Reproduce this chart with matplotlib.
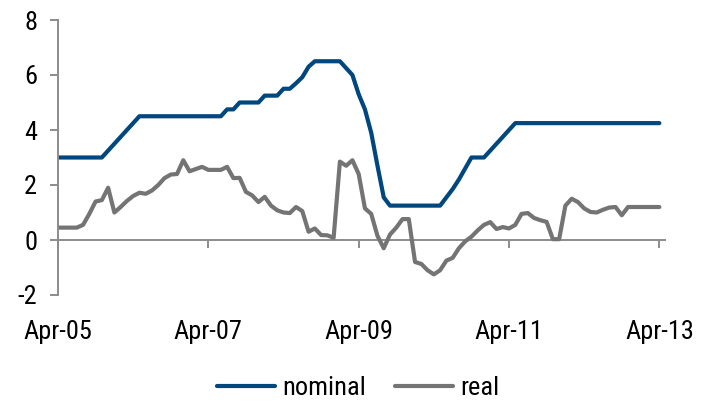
import matplotlib
matplotlib.use("Agg")
import matplotlib.pyplot as plt
import numpy as np
from matplotlib import font_manager

# monthly data, Apr-05 .. Apr-13
nominal = [
    3.0, 3.0, 3.0, 3.0, 3.0, 3.0, 3.0, 3.0, 3.25, 3.5, 3.75, 4.0, 4.25,
    4.5, 4.5, 4.5, 4.5, 4.5, 4.5, 4.5, 4.5, 4.5, 4.5, 4.5, 4.5, 4.5, 4.5,
    4.75, 4.75, 5.0, 5.0, 5.0, 5.0, 5.25, 5.25, 5.25, 5.5, 5.5, 5.7, 5.92,
    6.3, 6.5, 6.5, 6.5, 6.5, 6.5, 6.25, 6.0, 5.3, 4.75, 3.9, 2.7, 1.55,
    1.25, 1.25, 1.25, 1.25, 1.25, 1.25, 1.25, 1.25, 1.25, 1.55, 1.85, 2.2,
    2.6, 3.0, 3.0, 3.0, 3.25, 3.5, 3.75, 4.0, 4.25, 4.25, 4.25, 4.25, 4.25,
    4.25, 4.25, 4.25, 4.25, 4.25, 4.25, 4.25, 4.25, 4.25, 4.25, 4.25, 4.25,
    4.25, 4.25, 4.25, 4.25, 4.25, 4.25, 4.25,
]
real = [
    0.45, 0.45, 0.45, 0.45, 0.55, 0.95, 1.4, 1.45, 1.9, 1.0, 1.2, 1.42, 1.6,
    1.72, 1.68, 1.8, 2.0, 2.25, 2.38, 2.4, 2.9, 2.5, 2.58, 2.66, 2.55, 2.55,
    2.55, 2.66, 2.25, 2.26, 1.75, 1.62, 1.38, 1.57, 1.25, 1.08, 1.0, 0.98,
    1.2, 1.05, 0.3, 0.42, 0.18, 0.17, 0.08, 2.85, 2.7, 2.9, 2.4, 1.15, 0.95,
    0.15, -0.3, 0.2, 0.45, 0.76, 0.76, -0.8, -0.87, -1.1, -1.25, -1.1, -0.75,
    -0.65, -0.3, -0.05, 0.12, 0.35, 0.55, 0.65, 0.4, 0.47, 0.42, 0.55, 0.95,
    0.98, 0.8, 0.72, 0.66, 0.03, 0.03, 1.25, 1.5, 1.38, 1.15, 1.02, 1.0,
    1.1, 1.18, 1.2, 0.9, 1.2, 1.2, 1.2, 1.2, 1.2, 1.2,
]
tick_labels = ["Apr-05", "Apr-07", "Apr-09", "Apr-11", "Apr-13"]

# look for a narrow sans face, the reference uses a condensed font
narrow = None
for key in ["LiberationSansNarrow-Regular", "RobotoCondensed-Regular",
            "DejaVuSansCondensed.ttf", "Condensed-Regular", "Narrow"]:
    for f in font_manager.fontManager.ttflist:
        if key.lower() in f.fname.lower() and f.weight in (400, "normal", "regular") \
                and f.style == "normal":
            narrow = f
            break
    if narrow:
        break

if narrow is not None:
    plt.rcParams["font.family"] = [narrow.name, "DejaVu Sans"]
    plt.rcParams["font.stretch"] = narrow.stretch
    fsize = 19
else:
    plt.rcParams["font.family"] = ["Liberation Sans", "DejaVu Sans"]
    fsize = 15
plt.rcParams["axes.unicode_minus"] = False

months = np.arange(len(nominal))
blue = "#00467f"
grey = "#747474"
axis_grey = "#8c8c8c"

fig = plt.figure(figsize=(7.02, 4.05), dpi=100)
ax = fig.add_axes([58 / 702, 1 - 295 / 405, (665 - 58) / 702, (295 - 20) / 405])

ax.plot(months, nominal, color=blue, lw=3.0, label="nominal", solid_capstyle="round")
ax.plot(months, real, color=grey, lw=3.0, label="real", solid_capstyle="round")

ax.set_xlim(0, 96.9)
ax.set_ylim(-2, 8)
ax.set_yticks([-2, 0, 2, 4, 6, 8])
ax.set_xticks(np.arange(0, 97, 24))
ax.set_xticklabels(tick_labels)

for s in ["top", "right", "bottom"]:
    ax.spines[s].set_visible(False)
ax.spines["left"].set_color(axis_grey)
ax.spines["left"].set_linewidth(1.4)
ax.tick_params(axis="y", colors=axis_grey, length=6, width=1.4, pad=9,
               labelcolor="black", labelsize=fsize)
ax.tick_params(axis="x", length=0, pad=18, labelsize=fsize)

# zero line carrying the date ticks
sec = ax.secondary_xaxis(0.2)
sec.set_xticks(np.arange(0, 97, 24))
sec.set_xticklabels([])
sec.spines["bottom"].set_color(axis_grey)
sec.spines["bottom"].set_linewidth(1.4)
sec.tick_params(axis="x", colors=axis_grey, length=6, width=1.4, direction="out")

fig.legend(loc="center", bbox_to_anchor=(358 / 702, 1 - 388 / 405), ncol=2, frameon=False,
           fontsize=fsize, handlelength=2.2, handletextpad=0.27, columnspacing=1.1)

fig.savefig("out.png", dpi=100)
